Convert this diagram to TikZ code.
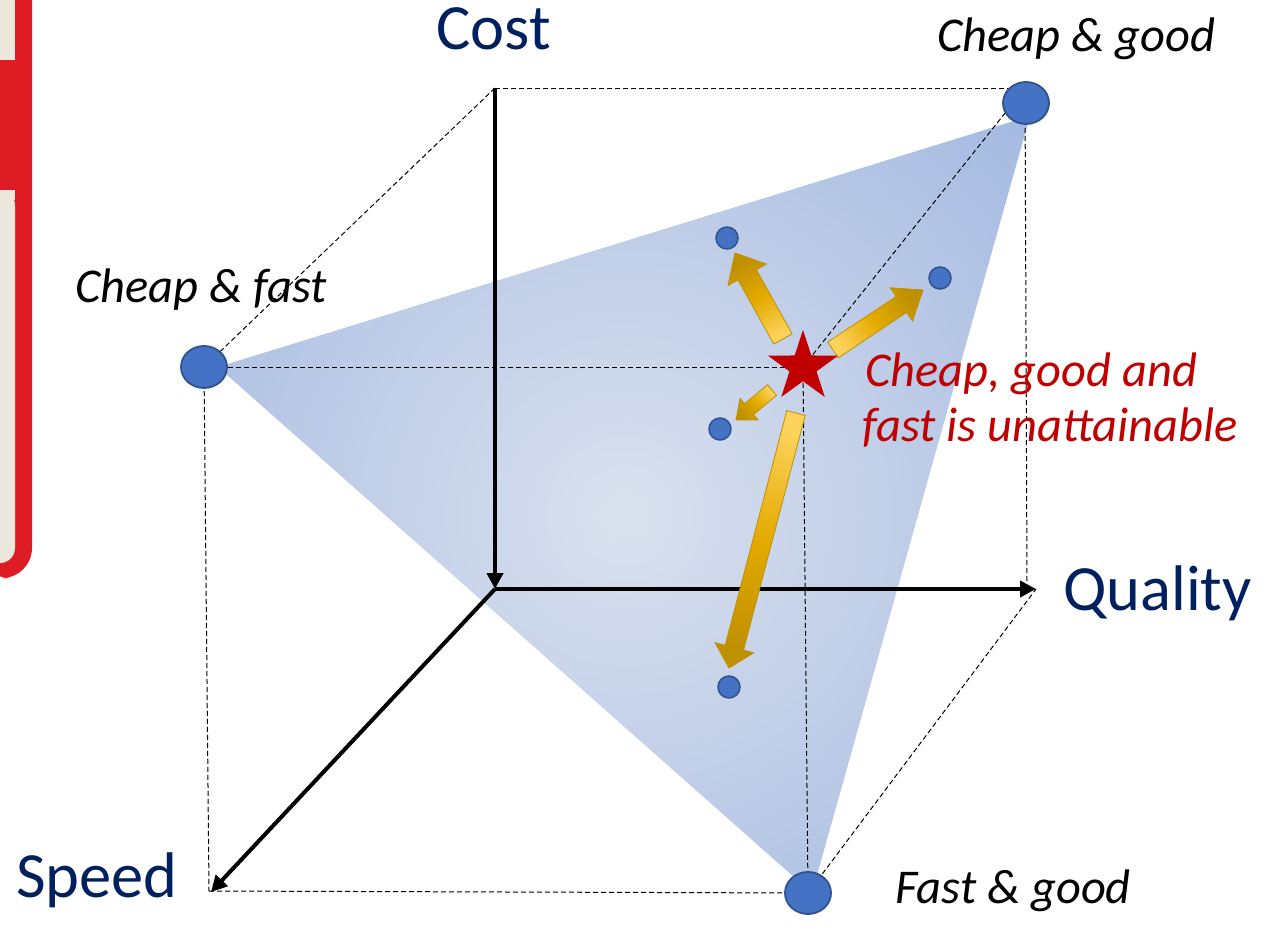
\documentclass[tikz,border=0pt]{standalone}
\usepackage{fontspec}
\setmainfont{Carlito}
\usetikzlibrary{arrows.meta,shapes.geometric,calc}
\definecolor{navy}{RGB}{0,32,96}
\definecolor{darkred}{RGB}{192,0,0}
\definecolor{dotfill}{RGB}{68,114,196}
\definecolor{dotline}{RGB}{47,82,143}
\definecolor{triout}{RGB}{143,170,220}
\definecolor{triin}{RGB}{218,225,238}
\definecolor{golddark}{RGB}{191,144,0}
\definecolor{goldmid}{RGB}{228,170,0}
\definecolor{goldlight}{RGB}{252,210,90}
\definecolor{signred}{RGB}{222,28,36}
\definecolor{signwhite}{RGB}{236,232,220}
\tikzset{
  axis/.style={line width=4pt, -{Triangle[length=16pt,width=16pt]}},
  guide/.style={line width=1pt, dash pattern=on 5pt off 3pt},
  bigdot/.style={ellipse, fill=dotfill, draw=dotline, line width=1.8pt, minimum width=46pt, minimum height=42pt, inner sep=0pt},
  smalldot/.style={circle, fill=dotfill, draw=dotline, line width=1.5pt, minimum size=22pt, inner sep=0pt},
  axislabel/.style={text=navy, font=\fontsize{64.5}{64.5}\selectfont, inner sep=0pt, anchor=base west},
  cornerlabel/.style={font=\itshape\fontsize{48.5}{48.5}\selectfont, inner sep=0pt, anchor=base west},
  redlabel/.style={text=darkred, font=\itshape\fontsize{48.5}{48.5}\selectfont, inner sep=0pt, anchor=base west},
  goldarrow/.style={draw=golddark, line width=0.8pt, top color=golddark, bottom color=goldlight, middle color=goldmid},
  bigstar/.style={star, star points=5, star point ratio=2.6, fill=darkred, minimum size=74pt, inner sep=0pt},
}
% #1 tail, #2 tip, #3 half shaft width, #4 half head width, #5 head length, #6 shading angle
\newcommand\goldarr[6]{%
  \coordinate (gh) at ($(#2)!#5!(#1)$);
  \path[goldarrow, shading angle=#6]
    ($(#1)!#3!90:(#2)$) -- ($(gh)!#3!90:(#2)$) -- ($(gh)!#4!90:(#2)$) -- (#2)
    -- ($(gh)!#4!-90:(#2)$) -- ($(gh)!#3!-90:(#2)$) -- ($(#1)!#3!-90:(#2)$) -- cycle;}
\begin{document}
\begin{tikzpicture}[x=1pt,y=-1pt]
\useasboundingbox (0,0) rectangle (1269,934);
% sign fragment at the left edge
\fill[signred] (-10,-10) -- (32,-10) [rounded corners=30pt] -- (32,578) -- (-20,578) [sharp corners] -- (-20,-10) -- cycle;
\fill[signwhite] (-10,-10) rectangle (15,60);
\fill[signwhite, rounded corners=15pt] (-20,190) -- (15,190) -- (15,563) -- (-20,563) -- cycle;
\fill[signwhite] (-20,190) rectangle (15,200);
% coordinates
\coordinate (O) at (495,589);
\coordinate (C) at (495,88);
\coordinate (Q) at (1036,589);
\coordinate (S) at (211,892);
\coordinate (CQ) at (1025,88);
\coordinate (QV) at (1027,584);
\coordinate (SP) at (209,891);
\coordinate (T1) at (218,367);
\coordinate (T2) at (1030,116);
\coordinate (T3) at (812,893);
% shaded triangle
\begin{scope}
  \clip (T1) -- (T2) -- (T3) -- cycle;
  \shade[inner color=triin, outer color=triout] (625,515) circle (790);
\end{scope}
% node centres
\path (204,367) coordinate (cfc) (1026,103) coordinate (cgc) (808,893) coordinate (fgc) (803,367) coordinate (stc);
% guide lines
\draw[guide] (C) -- (CQ);
\draw[guide] (C) -- (cfc);
\draw[guide] (cfc) -- (stc);
\draw[guide] (cfc) -- (SP);
\draw[guide] (SP) -- (fgc);
\draw[guide] (fgc) -- (Q);
\draw[guide] (CQ) -- (QV);
\draw[guide] (stc) -- (CQ);
\draw[guide] (stc) -- (fgc);
% axes
\draw[axis] (C) -- (O);
\draw[axis] (O) -- (Q);
\draw[axis] (O) -- (S);
% yellow arrows
\coordinate (a1t) at (783,339); \coordinate (a1p) at (735,253);
\coordinate (a2t) at (833,350); \coordinate (a2p) at (923,290);
\coordinate (a3t) at (772,390); \coordinate (a3p) at (736,420);
\coordinate (a4t) at (796,413); \coordinate (a4p) at (729,668);
\goldarr{a1t}{a1p}{10.5pt}{22pt}{25pt}{29}
\goldarr{a2t}{a2p}{9.5pt}{20pt}{26pt}{-56}
\goldarr{a3t}{a3p}{7pt}{14pt}{17pt}{130}
\goldarr{a4t}{a4p}{9.5pt}{20pt}{21pt}{165}
% star and dots
\node[bigstar] (st) at (stc) {};
\node[bigdot] (cf) at (cfc) {};
\node[bigdot] (cg) at (cgc) {};
\node[bigdot] (fg) at (fgc) {};
\node[smalldot] (d1) at (727,238) {};
\node[smalldot] (d2) at (940,278) {};
\node[smalldot] (d3) at (720,429) {};
\node[smalldot] (d4) at (729,687) {};
% labels
\node[axislabel] (costl) at (436,50) {Cost};
\node[axislabel] (qual) at (1063,610) {Quality};
\node[axislabel] (speed) at (16,897) {Speed};
\node[cornerlabel] (cgl) at (937,52) {Cheap \& good};
\node[cornerlabel] (cfl) at (75,302) {Cheap \& fast};
\node[cornerlabel] (fgl) at (895,903) {Fast \& good};
\node[redlabel] (r1) at (865,386) {Cheap, good and};
\node[redlabel] (r2) at (862,441) {fast is unattainable};
\end{tikzpicture}
\end{document}
